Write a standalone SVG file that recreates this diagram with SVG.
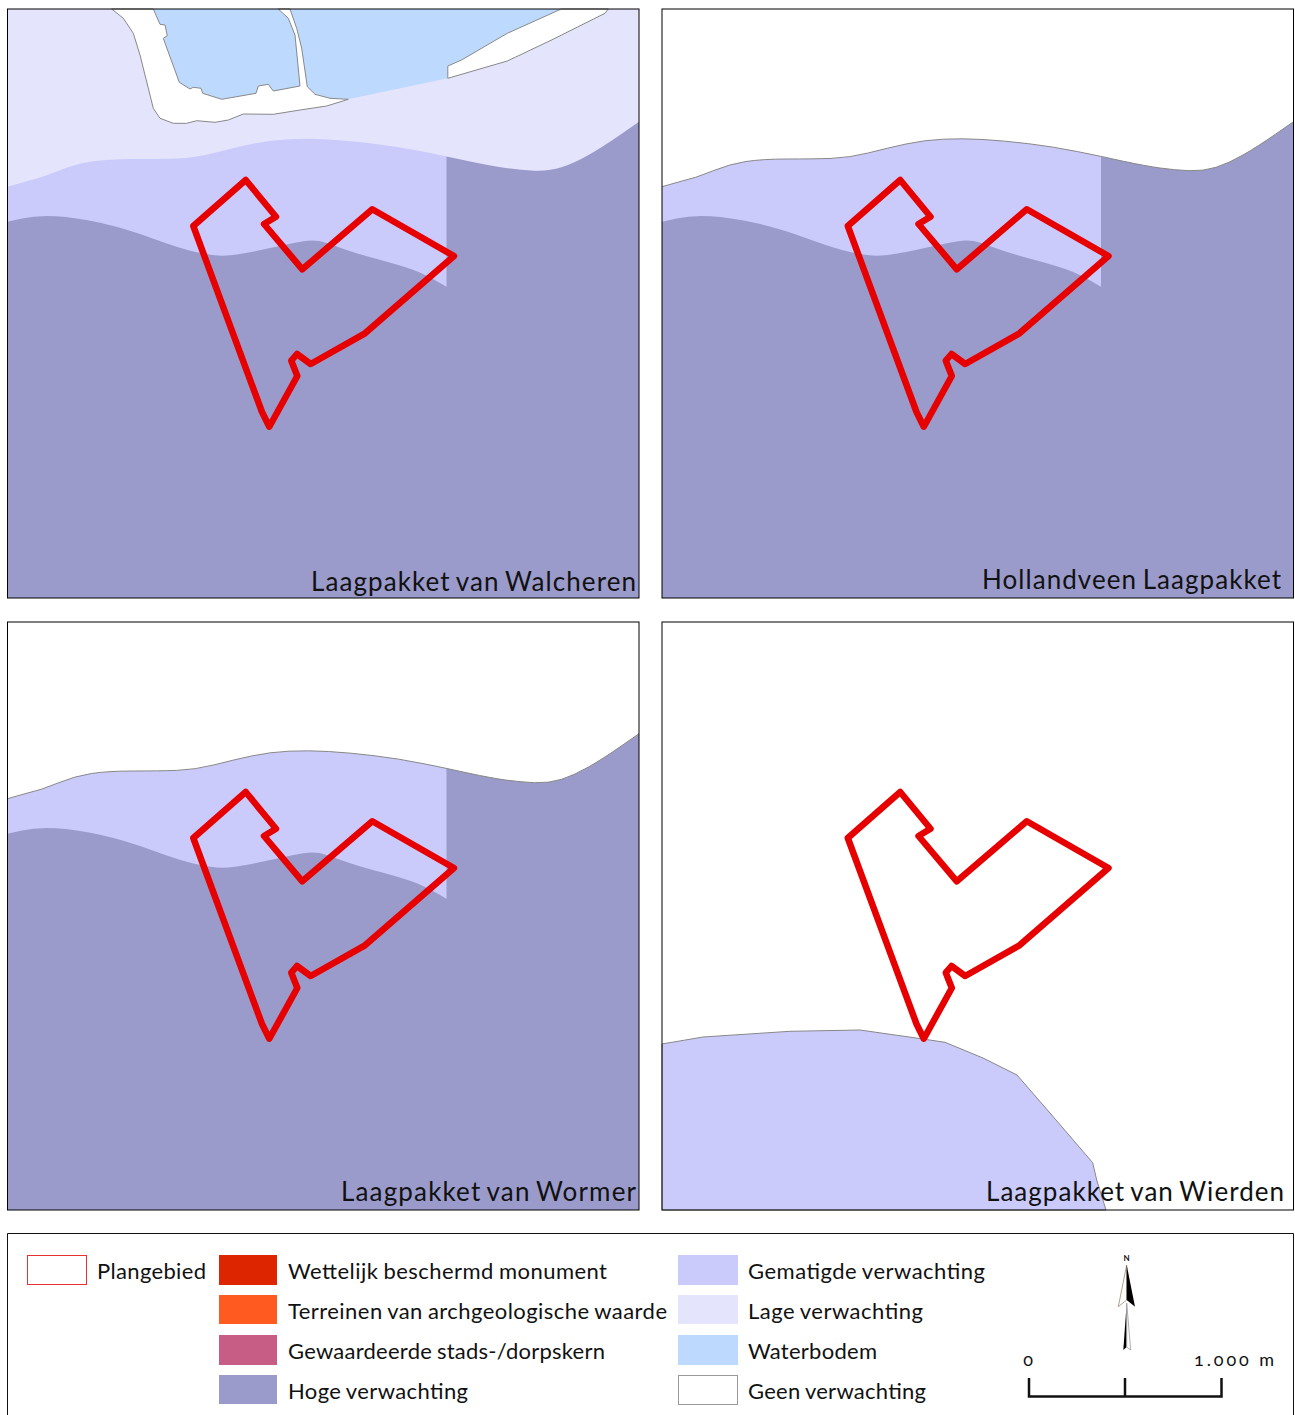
<svg xmlns="http://www.w3.org/2000/svg" width="1295" height="1415" viewBox="0 0 1295 1415">
<style>
.frame{fill:none;stroke:#000;stroke-width:1}
.gem{fill:#CBCBFB}.hoge{fill:#9B9BCB}.lage{fill:#E4E4FD}.water{fill:#BDDAFE}
.land{fill:#fff;stroke:#888;stroke-width:1;stroke-linejoin:round}
.edge{fill:none;stroke:#888;stroke-width:1}
.plan{fill:none;stroke:#E60000;stroke-width:6.500;stroke-linejoin:round}
text{font-family:"Lato","Liberation Sans",sans-serif;fill:#111}
.title{font-size:26px;word-spacing:-2px}.leg{font-size:22px;word-spacing:-1px}.sc{font-size:18px;font-variant-numeric:oldstyle-nums}
</style>
<defs>
<path id="gemShape" d="M7.500 186.700L24 182Q41.600 178 58 171Q75 164 91.500 161.500Q108 159 133 159Q158 159 176.500 158.400Q195 157.700 214 152.900Q233 148 251.500 144Q270 140 289 139.200Q308 138.300 328.500 139.500Q349 140.700 374 143.700Q399 146.700 423 151.600L447 156.500L447 287L7.500 300Z"/>
<path id="hogeShape" d="M7.500 221.700L22 218.400Q37 215 56 216.200Q75 217.300 100 222.800Q125 228.300 152 238.300Q179 248.300 195.500 252Q212 255.700 222.500 255.700Q233 255.700 251.500 252Q270 248.300 280.500 245.800Q291 243.300 303.500 241.300Q316 239.300 326.500 243Q337 246.700 349.500 250.900Q362 255 380.500 260Q399 265 411.500 269.200Q424 273.300 446.500 286.700L446.500 156.500L469 161.300Q491 166 505.500 168Q520 170 534.500 170.700Q549 171.300 561.500 167.300Q574 163.300 588.500 155Q603 146.700 621 134.200L639 121.700L639 598L7.500 598Z"/>
<path id="topEdge" d="M7.500 186.700L24 182Q41.600 178 58 171Q75 164 91.500 161.500Q108 159 133 159Q158 159 176.500 158.400Q195 157.700 214 152.900Q233 148 251.500 144Q270 140 289 139.200Q308 138.300 328.500 139.500Q349 140.700 374 143.700Q399 146.700 423 151.600L447 156.500L469 161.300Q491 166 505.500 168Q520 170 534.500 170.700Q549 171.300 561.500 167.300Q574 163.300 588.500 155Q603 146.700 621 134.200L639 121.700"/>
<path id="planShape" d="M245.700 180L276 216.700L264 224L302.300 269.300L372.300 209.300L454 256L365 333.300L310.700 364L297 354L291.300 360.700L297.300 376L269.300 426.700L262 412L193.300 226Z"/>
</defs>
<g id="panel-walcheren">
<rect class="lage" x="7.500" y="9" width="631.500" height="589"/>
<path class="water" d="M150 9L561.300 9L507.300 33.300L461.500 60L447.800 66L447.800 78.300L348 99.300L170 105Z"/>
<path class="land" d="M111.700 9L123.300 18.300L133.300 33.300L140 55L145 75L153.300 108.300L160 118.300L173.300 123.300L186.700 123.300L196.700 120.700L215 122.300L228.300 120L243.300 114L273.300 114.300L300 110L326.700 106L348.300 99.300L330 98.300L315 94.300L307.300 86.700L301.700 48.300L296.700 28.300L290 9L278.300 9L288.300 18.300L295 35L300 86L273.300 91L268.300 84.300L258.300 86L256 93.300L221.700 99.300L202.700 93.300L201 88.300L193.300 87.300L190 89L179.300 82.300L163.300 38.300L167.300 35.700L165 25L160 24.300L153.300 9Z"/>
<path class="land" d="M447.800 78.300L507.300 61L553 39.300L605 13.300L608.300 9L561.300 9L507.300 33.300L461.500 60L447.800 66Z"/>
<use href="#gemShape" class="gem"/>
<use href="#hogeShape" class="hoge"/>
<use href="#planShape" class="plan"/>
<rect class="frame" x="7.500" y="9" width="631.500" height="589"/>
<text class="title" x="311" y="591" textLength="325" lengthAdjust="spacing">Laagpakket van Walcheren</text>
</g>
<g id="panel-hollandveen">
<rect x="662" y="9" width="631.500" height="589" fill="#fff"/>
<g transform="translate(654.500 0)">
<use href="#gemShape" class="gem"/>
<use href="#hogeShape" class="hoge"/>
<use href="#topEdge" class="edge"/>
<use href="#planShape" class="plan"/>
</g>
<rect class="frame" x="662" y="9" width="631.500" height="589"/>
<text class="title" x="982" y="589" textLength="299" lengthAdjust="spacing">Hollandveen Laagpakket</text>
</g>
<g id="panel-wormer">
<rect x="7.500" y="622" width="631.500" height="588" fill="#fff"/>
<g transform="translate(0 612)">
<use href="#gemShape" class="gem"/>
<use href="#hogeShape" class="hoge"/>
<use href="#topEdge" class="edge"/>
<use href="#planShape" class="plan"/>
</g>
<rect class="frame" x="7.500" y="622" width="631.500" height="588"/>
<text class="title" x="341" y="1201" textLength="295" lengthAdjust="spacing">Laagpakket van Wormer</text>
</g>
<g id="panel-wierden">
<rect x="662" y="622" width="631.500" height="588" fill="#fff"/>
<path class="gem" stroke="#888" stroke-width="1" d="M662 1044L703 1037L790 1031.300L860 1030L923 1039L945 1042.300L983 1058L1017 1075L1050 1113L1092.700 1162.700L1096.700 1180L1106 1210L662 1210Z"/>
<use href="#planShape" class="plan" transform="translate(654.500 612)"/>
<rect class="frame" x="662" y="622" width="631.500" height="588"/>
<text class="title" x="986" y="1201" textLength="298" lengthAdjust="spacing">Laagpakket van Wierden</text>
</g>
<g id="legend">
<path d="M7.500 1415L7.500 1233.500L1293.500 1233.500L1293.500 1415" fill="#fff" stroke="#111" stroke-width="1"/>
<g id="leg-plangebied"><rect x="27.500" y="1255.500" width="59" height="29" fill="#fff" stroke="#E83030" stroke-width="1"/><text class="leg" x="97" y="1278.500" textLength="109" lengthAdjust="spacing">Plangebied</text></g>
<g id="leg-monument"><rect x="219" y="1255" width="58" height="30" fill="#DD2600"/><text class="leg" x="288" y="1278.500" textLength="319" lengthAdjust="spacing">Wettelijk beschermd monument</text></g>
<g id="leg-terreinen"><rect x="219" y="1295" width="58" height="29" fill="#FF5A20"/><text class="leg" x="288" y="1318.500" textLength="379" lengthAdjust="spacing">Terreinen van archgeologische waarde</text></g>
<g id="leg-kern"><rect x="219" y="1335" width="58" height="30" fill="#C75C85"/><text class="leg" x="288" y="1358.500" textLength="317" lengthAdjust="spacing">Gewaardeerde stads-/dorpskern</text></g>
<g id="leg-hoge"><rect x="219" y="1375" width="58" height="29" fill="#9B9BCB"/><text class="leg" x="288" y="1398.500" textLength="180" lengthAdjust="spacing">Hoge verwachting</text></g>
<g id="leg-gematigd"><rect x="678" y="1255" width="60" height="30" fill="#CBCBFB"/><text class="leg" x="748" y="1278.500" textLength="237" lengthAdjust="spacing">Gematigde verwachting</text></g>
<g id="leg-lage"><rect x="678" y="1295" width="60" height="29" fill="#E4E4FD"/><text class="leg" x="748" y="1318.500" textLength="175" lengthAdjust="spacing">Lage verwachting</text></g>
<g id="leg-water"><rect x="678" y="1335" width="60" height="30" fill="#BDDAFE"/><text class="leg" x="748" y="1358.500" textLength="129" lengthAdjust="spacing">Waterbodem</text></g>
<g id="leg-geen"><rect x="678.500" y="1375.500" width="59" height="29" fill="#fff" stroke="#999" stroke-width="1"/><text class="leg" x="748" y="1398.500" textLength="178" lengthAdjust="spacing">Geen verwachting</text></g>
</g>
<g id="north-arrow">
<text x="1126.500" y="1261" font-size="8" font-weight="700" text-anchor="middle">N</text>
<path d="M1126.700 1265L1118.300 1306.700L1126.700 1300Z" fill="#fff" stroke="#9a8a70" stroke-width="0.800"/>
<path d="M1126.700 1265L1135 1306.700L1126.700 1300Z" fill="#000"/>
<path d="M1126.700 1303L1123.300 1350L1126.700 1347Z" fill="#000"/>
<path d="M1126.700 1303L1130.700 1350L1126.700 1347Z" fill="#fff" stroke="#9a9aa0" stroke-width="0.800"/>
</g>
<g id="scale-bar">
<path d="M1029 1378V1396.500H1221.500V1378M1125 1378V1396.500" fill="none" stroke="#111" stroke-width="2.500"/>
<text class="sc" x="1028" y="1366" text-anchor="middle">0</text>
<text class="sc" x="1194" y="1366" textLength="80" lengthAdjust="spacing">1.000 m</text>
</g>
</svg>
